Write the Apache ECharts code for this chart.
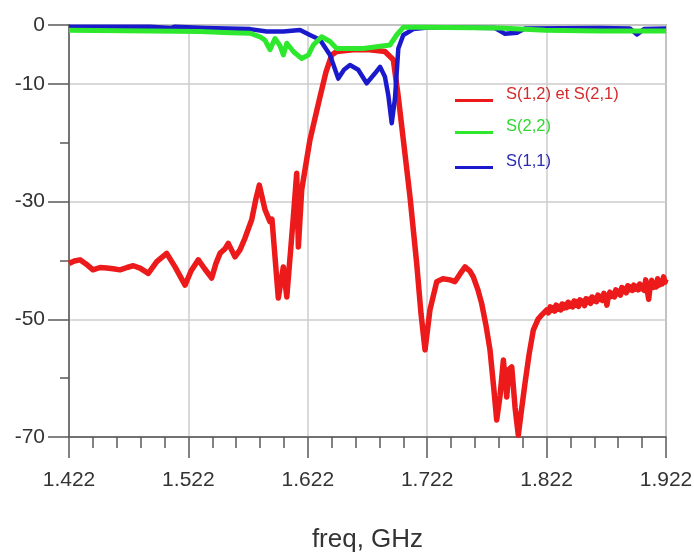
<!DOCTYPE html>
<html>
<head>
<meta charset="utf-8">
<script src="https://cdn.jsdelivr.net/npm/echarts@6/dist/echarts.min.js"></script>
<style>
html,body{margin:0;padding:0;background:#fff;}
#chart{width:694px;height:556px;}
</style>
</head>
<body>
<div id="chart"></div>
<script>
// Series names
var seriesNames = ['S(1,2) et S(2,1)', 'S(2,2)', 'S(1,1)'];

// S(1,2) et S(2,1): [freq GHz, dB]
var s12 = [
  [1.422,-40.5],[1.4265,-40.1],[1.4312,-39.9],[1.4362,-40.6],[1.4421,-41.6],[1.448,-41.2],[1.4536,-41.3],
  [1.4589,-41.4],[1.4647,-41.6],[1.4706,-41.2],[1.4759,-40.9],[1.4815,-41.3],[1.4884,-42.2],
  [1.4955,-40.2],[1.5038,-38.8],[1.5108,-41.1],[1.5192,-44.2],[1.5242,-41.8],[1.5303,-39.9],
  [1.5359,-41.5],[1.5415,-43.0],[1.5451,-40.5],[1.5485,-38.8],[1.5527,-38.0],[1.5554,-37.1],
  [1.561,-39.4],[1.5652,-38.2],[1.5694,-36.2],[1.575,-33.1],[1.5786,-29.5],[1.5814,-27.2],
  [1.5862,-31.4],[1.5903,-33.4],[1.592,-33.0],[1.5973,-46.4],[1.6015,-41.1],[1.6044,-46.2],
  [1.6099,-32.6],[1.6127,-25.2],[1.6141,-37.7],[1.6169,-28.0],[1.6238,-19.5],[1.6322,-12.2],
  [1.6372,-8.0],[1.642,-5.1],[1.6462,-4.5],[1.6601,-4.2],[1.674,-4.2],[1.6866,-4.5],
  [1.6936,-5.9],[1.6978,-12.2],[1.702,-19.5],[1.7076,-29.2],[1.7132,-40.5],[1.7168,-49.0],
  [1.7202,-55.2],[1.7243,-48.4],[1.73,-43.6],[1.7352,-43.1],[1.7411,-43.3],[1.7453,-43.6],
  [1.7495,-42.3],[1.7537,-41.1],[1.7578,-41.8],[1.7606,-42.8],[1.7645,-45.0],[1.7676,-47.3],
  [1.7712,-51.0],[1.7746,-55.2],[1.7779,-62.0],[1.7802,-67.1],[1.783,-63.0],[1.7858,-56.9],
  [1.7886,-63.2],[1.7905,-58.5],[1.7928,-58.1],[1.7956,-65.0],[1.7983,-69.7],[1.8006,-66.0],
  [1.8039,-60.9],[1.8073,-56.0],[1.8109,-51.8],[1.8148,-50.0],[1.8182,-49.2],[1.8221,-48.4],
  [1.8235,-48.9],[1.825,-47.9],[1.8262,-48.5],[1.8275,-48.0],[1.8288,-48.6],[1.83,-47.6],
  [1.8312,-48.3],[1.8325,-47.8],[1.8338,-48.4],[1.835,-47.4],[1.8362,-48.1],[1.8375,-47.5],
  [1.8388,-48.0],[1.84,-47.1],[1.8412,-47.8],[1.8425,-47.3],[1.8438,-47.9],[1.845,-46.9],
  [1.8462,-47.6],[1.8475,-47.0],[1.8488,-47.8],[1.85,-46.7],[1.8512,-47.3],[1.8525,-46.9],
  [1.8538,-47.7],[1.855,-46.5],[1.8562,-47.1],[1.8575,-46.6],[1.8588,-47.3],[1.86,-46.2],
  [1.8612,-46.9],[1.8625,-46.4],[1.8638,-47.0],[1.865,-45.9],[1.8662,-46.6],[1.8675,-46.1],
  [1.8688,-46.8],[1.87,-45.6],[1.8712,-46.3],[1.8725,-47.6],[1.8738,-46.0],[1.875,-45.4],
  [1.8762,-46.1],[1.8775,-45.6],[1.8788,-46.2],[1.88,-45.0],[1.8812,-45.7],[1.8825,-45.2],
  [1.8838,-45.9],[1.885,-44.6],[1.8862,-45.3],[1.8875,-44.8],[1.8888,-45.5],[1.89,-44.3],
  [1.8912,-45.0],[1.8925,-44.5],[1.8938,-45.1],[1.895,-44.2],[1.8962,-44.9],[1.8975,-44.4],
  [1.8988,-45.0],[1.9,-44.0],[1.9012,-44.8],[1.9025,-44.3],[1.9038,-45.1],[1.905,-43.3],
  [1.9062,-44.9],[1.9075,-46.6],[1.9088,-44.2],[1.91,-43.4],[1.9112,-44.6],[1.9125,-43.8],
  [1.9138,-44.5],[1.915,-43.1],[1.9162,-44.2],[1.9175,-43.5],[1.9188,-44.0],[1.92,-42.8],
  [1.9212,-43.7],[1.922,-43.2]
];

// S(2,2)
var s22 = [
  [1.422,-0.9],[1.4898,-1.0],[1.5317,-1.1],[1.5568,-1.3],[1.5736,-1.4],[1.582,-2.0],
  [1.5862,-2.6],[1.5903,-4.2],[1.5945,-2.3],[1.5987,-3.5],[1.6015,-5.1],[1.6044,-3.1],
  [1.6099,-4.5],[1.6169,-5.7],[1.6225,-5.1],[1.6266,-3.4],[1.6336,-2.0],[1.6406,-2.8],
  [1.6462,-4.0],[1.6573,-4.0],[1.6685,-4.0],[1.6797,-3.7],[1.6908,-3.4],[1.6964,-1.7],
  [1.702,-0.4],[1.716,-0.4],[1.783,-0.5],[1.8207,-0.9],[1.8667,-1.0],[1.922,-1.0]
];

// S(1,1)
var s11 = [
  [1.422,-0.3],[1.4898,-0.3],[1.5074,-0.5],[1.5108,-0.3],[1.5361,-0.5],[1.5736,-0.7],
  [1.5876,-1.1],[1.6015,-1.1],[1.6155,-0.85],[1.6238,-1.7],[1.6322,-2.5],[1.6406,-5.1],
  [1.6475,-9.1],[1.6523,-7.6],[1.6573,-6.8],[1.6642,-7.6],[1.6713,-9.9],[1.6783,-8.2],
  [1.6825,-7.1],[1.6866,-8.8],[1.6894,-11.9],[1.6923,-16.7],[1.695,-12.5],[1.6978,-4.0],
  [1.702,-1.7],[1.7104,-0.7],[1.7243,-0.4],[1.7788,-0.5],[1.7872,-1.5],[1.7972,-1.3],
  [1.8039,-0.6],[1.8667,-0.5],[1.8918,-0.6],[1.8977,-1.6],[1.9036,-0.7],[1.922,-0.6]
];

var xTitle = 'freq, GHz';

var FONT = '"Liberation Sans", Arial, sans-serif';
var lineColors = ['#ec1a1a', '#2ee82e', '#1a1acc'];
var legendTextColors = ['#d42a2a', '#30d830', '#2a2ab0'];
var legendTops = [81, 113, 148];

function makeLegend(i) {
  return {
    orient: 'vertical', left: 450, top: legendTops[i],
    itemWidth: 38, itemHeight: 3, icon: 'rect',
    data: [seriesNames[i]],
    formatter: function (n) { return '{t|' + n + '}'; },
    textStyle: {
      rich: {t: {fontFamily: FONT, fontSize: 16.5, lineHeight: 20, color: legendTextColors[i], padding: [0, 0, 12, 8]}}
    }
  };
}

var chart = echarts.init(document.getElementById('chart'), null, {renderer: 'canvas'});
chart.setOption({
  animation: false,
  backgroundColor: '#ffffff',
  grid: {left: 69, right: 28, top: 25, bottom: 119, outerBoundsMode: 'none', containLabel: false,
    show: true, borderColor: '#8a8a8a', borderWidth: 1.5, backgroundColor: 'transparent'},
  legend: [makeLegend(0), makeLegend(1), makeLegend(2)],
  xAxis: {
    type: 'value', min: 1.422, max: 1.922, interval: 0.1,
    name: xTitle, nameLocation: 'middle', nameGap: 90,
    nameTextStyle: {fontFamily: FONT, fontSize: 26, color: '#333'},
    axisLine: {show: true, onZero: false, lineStyle: {color: '#5a5a5a', width: 1.5}},
    axisTick: {show: true, length: 21, lineStyle: {color: '#5a5a5a', width: 1.5}},
    minorTick: {show: true, splitNumber: 5, length: 11, lineStyle: {color: '#5a5a5a', width: 1.5}},
    axisLabel: {fontFamily: FONT, fontSize: 21, color: '#333', margin: 33,
      formatter: function (v) { return v.toFixed(3); }},
    splitLine: {show: true, lineStyle: {color: '#cccccc', width: 1.5}}
  },
  yAxis: [{
    type: 'value', min: -70, max: 0, interval: 20,
    axisLine: {show: true, onZero: false, lineStyle: {color: '#5a5a5a', width: 1.5}},
    axisTick: {show: true, length: 21, lineStyle: {color: '#5a5a5a', width: 1.5}},
    axisLabel: {fontFamily: FONT, fontSize: 21, color: '#333', margin: 24},
    splitLine: {show: true, lineStyle: {color: '#cccccc', width: 1.5}}
  }, {
    type: 'value', min: -70, max: 0, interval: 10, position: 'left', offset: 0,
    axisLine: {show: false, onZero: false},
    axisTick: {show: true, length: 9, lineStyle: {color: '#5a5a5a', width: 1.5}},
    axisLabel: {show: false},
    splitLine: {show: false}
  }],
  series: [
    {name: seriesNames[0], type: 'line', data: s12, showSymbol: false, z: 2,
      lineStyle: {color: lineColors[0], width: 5.5, join: 'round'}, itemStyle: {color: lineColors[0]}},
    {name: seriesNames[2], type: 'line', data: s11, showSymbol: false, z: 3,
      lineStyle: {color: lineColors[2], width: 4.5, join: 'round'}, itemStyle: {color: lineColors[2]}},
    {name: seriesNames[1], type: 'line', data: s22, showSymbol: false, z: 4,
      lineStyle: {color: lineColors[1], width: 5, join: 'round'}, itemStyle: {color: lineColors[1]}}
  ]
});
</script>
</body>
</html>
